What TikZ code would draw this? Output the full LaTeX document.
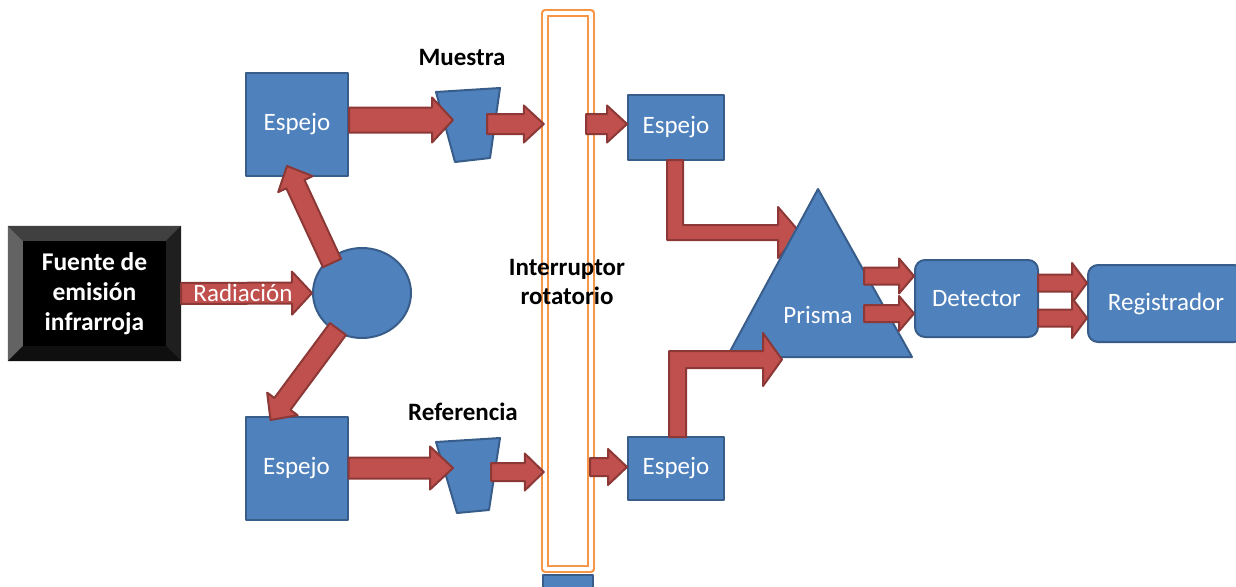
\documentclass[tikz,border=0pt]{standalone}
\usepackage{fontspec}
\setmainfont{Carlito}
\usepackage{tikz}
\usetikzlibrary{calc}
\usetikzlibrary{shapes.geometric}
\definecolor{azulrelleno}{HTML}{4F81BD}
\definecolor{azulborde}{HTML}{385D8A}
\definecolor{rojorelleno}{HTML}{C0504D}
\definecolor{rojoborde}{HTML}{8C3836}
\definecolor{naranja}{HTML}{F79646}
\definecolor{biselsup}{HTML}{404040}
\definecolor{biselizq}{HTML}{636363}
\definecolor{biselder}{HTML}{1F1F1F}
\definecolor{biselinf}{HTML}{0F0F0F}
\tikzstyle{every node}=[font=\fontsize{25}{29}\selectfont]
\tikzstyle{caja}=[draw=azulborde,fill=azulrelleno,line width=2pt,text=white,inner sep=0pt]
\tikzstyle{flecha}=[draw=rojoborde,fill=rojorelleno,line width=2pt]
\tikzstyle{etiqueta}=[font=\fontsize{25}{29}\selectfont\bfseries,align=center]
% ancho cuerpo, ancho punta, largo punta, origen, punta
\newcommand{\flechabloque}[5]{%
  \coordinate (fbase) at ($(#5)!#3!(#4)$);
  \filldraw[flecha] ($(#4)!#1!90:(#5)$) -- ($(fbase)!#1!-90:(#4)$) -- ($(fbase)!#2!-90:(#4)$) -- (#5)
    -- ($(fbase)!#2!90:(#4)$) -- ($(fbase)!#1!90:(#4)$) -- ($(#4)!#1!-90:(#5)$) -- cycle;
}

\begin{document}
\begin{tikzpicture}[line join=round,x=1pt,y=-1pt]
            \useasboundingbox (0,0) rectangle (1236,586);
            \clip (0,0) rectangle (1236,586);
            % fuente
            \node[fill=black,inner sep=0pt,minimum width=173pt,minimum height=135pt,text=white,
              font=\fontsize{25.5}{30}\selectfont\bfseries,align=center] (fuente) at (94.5,293.5) {Fuente de\\emisión\\infrarroja};
            \fill[biselsup] (fuente.north west) -- (fuente.north east) -- ([shift={(-15,15)}]fuente.north east) -- ([shift={(15,15)}]fuente.north west) -- cycle;
            \fill[biselizq] (fuente.north west) -- ([shift={(15,15)}]fuente.north west) -- ([shift={(15,-15)}]fuente.south west) -- (fuente.south west) -- cycle;
            \fill[biselder] (fuente.north east) -- ([shift={(-15,15)}]fuente.north east) -- ([shift={(-15,-15)}]fuente.south east) -- (fuente.south east) -- cycle;
            \fill[biselinf] (fuente.south west) -- ([shift={(15,-15)}]fuente.south west) -- ([shift={(-15,-15)}]fuente.south east) -- (fuente.south east) -- cycle;
            % divisor y espejos
            \node[caja,ellipse,minimum width=98pt,minimum height=90pt] (divisor) at (362,293) {};
            \node[caja,minimum width=102pt,minimum height=103pt] (espejo1) at (297,124.5) {Espejo};
            \node[caja,minimum width=102pt,minimum height=103pt] (espejo2) at (296.5,468.5) {Espejo};
            \flechabloque{10.5pt}{21.5pt}{20pt}{fuente.east}{divisor.west}
            \node[text=white] (radiacion) at (243,293) {Radiación};
            \coordinate (d1a) at ($(divisor)+(-30,-30)$);
            \coordinate (d1b) at ($(espejo1.south)+(-10,-11)$);
            \coordinate (d2a) at ($(divisor)+(-24,36)$);
            \coordinate (d2b) at ($(espejo2.north)+(-26,4)$);
            \flechabloque{10pt}{19pt}{20pt}{d1a}{d1b}
            \flechabloque{10pt}{19pt}{20pt}{d2a}{d2b}
            % celdas
            \filldraw[caja] (436,92) -- (500,88) -- (490,158) -- (455,162) -- cycle;
            \filldraw[caja] (436,442) -- (500,438) -- (489,510) -- (457,513) -- cycle;
            \node[etiqueta] (muestra) at (462,57) {Muestra};
            \node[etiqueta] (referencia) at (463,412) {Referencia};
            \coordinate (m1) at (453,120);
            \coordinate (r1) at (453,468);
            \flechabloque{12.5pt}{22.5pt}{21pt}{espejo1.east |- m1}{m1}
            \flechabloque{10.5pt}{21.5pt}{23pt}{espejo2.east |- r1}{r1}
            % interruptor
            \filldraw[caja] (543,575) rectangle (593,600);
            \node[draw=naranja,line width=2.5pt,double=white,double distance=3.5pt,fill=white,
              minimum width=46pt,minimum height=556pt,inner sep=0pt] (interruptor) at (568,291) {};
            \node[etiqueta] (rotatorio) at (567,281.5) {Interruptor\\rotatorio};
            \coordinate (m2) at (487,124);
            \coordinate (r2) at (491,472);
            \flechabloque{10pt}{18.5pt}{20pt}{m2}{interruptor.west |- m2}
            \flechabloque{9pt}{18.5pt}{19pt}{r2}{interruptor.west |- r2}
            \node[caja,minimum width=96pt,minimum height=65pt] (espejo3) at (676,127.5) {Espejo};
            \node[caja,minimum width=96pt,minimum height=63pt] (espejo4) at (676,468.5) {Espejo};
            \coordinate (m3) at (586,124);
            \coordinate (r3) at (590,467);
            \flechabloque{10pt}{18.5pt}{20pt}{m3}{espejo3.west |- m3}
            \flechabloque{9pt}{18pt}{19pt}{r3}{espejo4.west |- r3}
            % prisma
            \filldraw[flecha] (667,160) -- (667,240) -- (778,240) -- (778,258) -- (800,232.5) -- (778,207) -- (778,225) -- (683,225) -- (683,160) -- cycle;
            \filldraw[caja] (818,189) -- (912,357) -- (727,357) -- cycle;
            \node[text=white] (prisma) at (818,315) {Prisma};
            \filldraw[flecha] (669,437) -- (669,351) -- (763,351) -- (763,333) -- (782,359.5) -- (763,386) -- (763,368) -- (686,368) -- (686,437) -- cycle;
            % deteccion
            \node[caja,rounded corners=10pt,minimum width=123pt,minimum height=77pt] (detector) at (976.5,298.5) {Detector};
            \node[caja,rounded corners=10pt,minimum width=156pt,minimum height=77pt] (registrador) at (1166,303.5) {Registrador};
            \coordinate (p1) at (864,276);
            \coordinate (p2) at (864,313.5);
            \flechabloque{8.5pt}{17.5pt}{15pt}{p1}{detector.west |- p1}
            \flechabloque{8.5pt}{17.5pt}{15pt}{p2}{detector.west |- p2}
            \coordinate (q1) at (1038,283);
            \coordinate (q2) at (1038,318);
            \flechabloque{8.5pt}{20pt}{15pt}{q1}{registrador.west |- q1}
            \flechabloque{8.5pt}{20pt}{15pt}{q2}{registrador.west |- q2}
            \end{tikzpicture}
\end{document}
